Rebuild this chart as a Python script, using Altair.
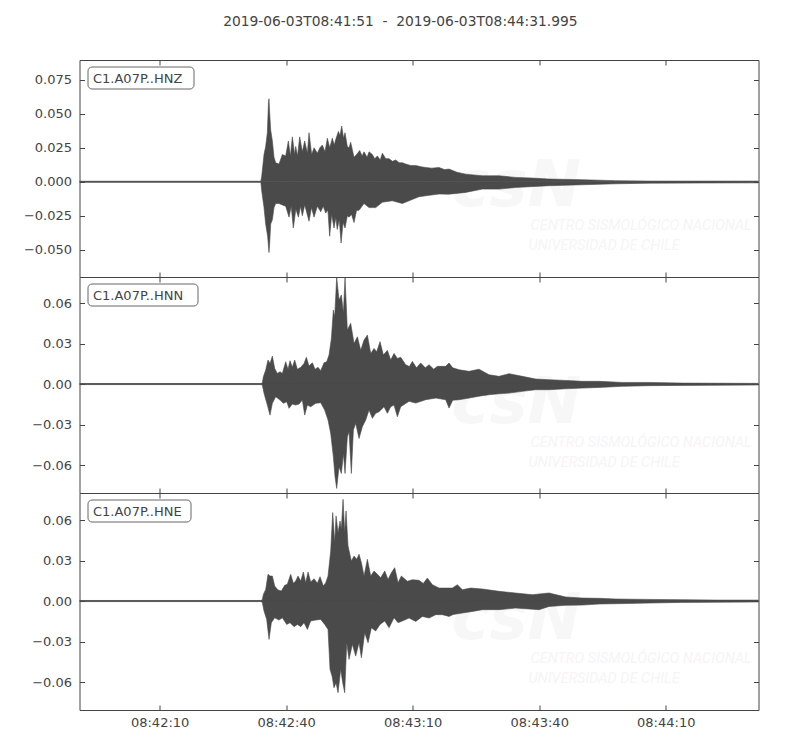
import altair as alt
import pandas as pd

TITLE = "2019-06-03T08:41:51\u00a0\u00a0-\u00a0\u00a02019-06-03T08:44:31.995"
START = "2019-06-03T08:41:51"
LABELS = ["C1.A07P..HNZ", "C1.A07P..HNN", "C1.A07P..HNE"]
TICK_TIMES = ["08:42:10", "08:42:40", "08:43:10", "08:43:40", "08:44:10"]
Y_TICKS = [
    [-0.05, -0.025, 0.0, 0.025, 0.05, 0.075],
    [-0.06, -0.03, 0.0, 0.03, 0.06],
    [-0.06, -0.03, 0.0, 0.03, 0.06],
]
Y_DOMAINS = [[-0.0700, 0.0895], [-0.0807, 0.0793], [-0.0807, 0.0800]]
Y_FORMATS = [".3f", ".2f", ".2f"]
WATERMARK = ["csN", "CENTRO SISMOLÓGICO NACIONAL", "UNIVERSIDAD DE CHILE"]

# ---- HNZ envelope (seconds after 08:41:51, amplitude) ----
hnz_max_t = [0, 43.0, 43.2, 43.75, 44.14, 44.54, 44.8, 44.93, 45.1, 45.33, 45.73, 46.12, 46.52, 47.31,
             48.1, 48.89, 49.52, 50.0, 50.47, 51.0, 51.26, 51.7, 52.21, 52.84, 53.39, 54.03, 54.42,
             55.05, 55.61, 56.4, 57.0, 57.58, 58.21, 58.77, 59.32, 59.95, 60.4, 60.75, 61.38, 61.77,
             62.17, 62.6, 62.96, 63.5, 63.91, 64.3, 65.09, 65.7, 66.44, 67.0, 67.46, 68.2, 68.65,
             69.44, 70.0, 70.63, 71.3, 71.81, 72.6, 73.4, 74.2, 74.97, 75.8, 76.55, 77.35, 78.5,
             79.72, 81.0, 82.09, 83.5, 85.25, 86.5, 87.62, 89.5, 91.57, 93.5, 95.53, 99.48, 103.43,
             107.38, 111.34, 119.24, 127.15, 135.05, 161.0]
hnz_max_v = [0.0004, 0.0004, 0.004, 0.020, 0.026, 0.036, 0.058, 0.061, 0.050, 0.038, 0.030, 0.018,
             0.014, 0.013, 0.020, 0.019, 0.030, 0.019, 0.033, 0.020, 0.026, 0.019, 0.033, 0.022,
             0.030, 0.021, 0.036, 0.020, 0.025, 0.021, 0.025, 0.027, 0.022, 0.032, 0.025, 0.032,
             0.027, 0.031, 0.037, 0.034, 0.041, 0.032, 0.036, 0.026, 0.025, 0.029, 0.018, 0.020,
             0.023, 0.019, 0.022, 0.018, 0.022, 0.020, 0.017, 0.019, 0.016, 0.021, 0.017, 0.017,
             0.015, 0.016, 0.014, 0.014, 0.013, 0.012, 0.012, 0.011, 0.0105, 0.010, 0.0105, 0.009,
             0.0093, 0.007, 0.0056, 0.005, 0.0044, 0.0044, 0.0032, 0.0027, 0.002, 0.0015, 0.0008,
             0.0005, 0.0005]
hnz_min_t = [0, 43.0, 43.2, 43.75, 44.14, 44.6, 44.93, 45.1, 45.33, 45.73, 46.12, 46.52, 47.31, 48.1,
             48.89, 49.68, 50.2, 50.7, 51.3, 51.9, 52.4, 52.84, 53.4, 54.42, 55.0, 55.61, 56.4, 57.2,
             57.8, 58.37, 58.9, 59.32, 59.8, 60.35, 60.8, 61.1, 61.6, 62.02, 62.5, 62.96, 63.5,
             63.91, 64.5, 65.09, 65.7, 66.28, 67.46, 68.65, 70.23, 71.81, 74.18, 76.55, 78.14,
             80.51, 82.88, 85.25, 87.62, 91.57, 95.53, 99.48, 103.43, 111.34, 119.24, 127.15,
             135.05, 161.0]
hnz_min_v = [-0.0004, -0.0004, -0.0066, -0.019, -0.031, -0.040, -0.052, -0.045, -0.031, -0.028,
             -0.019, -0.016, -0.016, -0.017, -0.018, -0.026, -0.018, -0.034, -0.020, -0.026,
             -0.018, -0.025, -0.017, -0.029, -0.019, -0.026, -0.018, -0.022, -0.018, -0.023,
             -0.021, -0.040, -0.024, -0.034, -0.026, -0.035, -0.028, -0.045, -0.030, -0.034,
             -0.025, -0.026, -0.024, -0.030, -0.021, -0.021, -0.016, -0.019, -0.019, -0.015,
             -0.014, -0.016, -0.014, -0.011, -0.010, -0.009, -0.0091, -0.0078, -0.0054, -0.0054,
             -0.0042, -0.0029, -0.0022, -0.0015, -0.001, -0.0008]

# ---- HNN envelope ----
hnn_max_t = [0, 43.0, 43.35, 43.59, 44.15, 44.70, 45.17, 45.73, 46.28, 46.91, 47.55, 48.10, 48.89,
             49.44, 49.92, 50.47, 51.02, 51.66, 52.45, 53.24, 53.79, 54.42, 55.21, 55.85, 56.56,
             57.19, 57.98, 58.61, 59.17, 59.72, 60.19, 60.51, 60.98, 61.54, 62.09, 62.57, 62.96,
             63.51, 64.30, 65.10, 65.89, 66.68, 67.47, 68.26, 69.05, 69.84, 70.47, 71.26, 72.05,
             73.0, 73.79, 74.58, 75.37, 76.16, 77.35, 78.2, 78.93, 79.9, 80.9, 82.0, 82.88, 84.0,
             84.86, 86.83, 87.62, 88.5, 90.0, 92.36, 94.73, 97.1, 99.48, 101.85, 105.0, 108.17,
             111.34, 115.29, 119.24, 123.19, 128.73, 135.05, 142.96, 161.0]
hnn_max_v = [0.0004, 0.0004, 0.0007, 0.0054, 0.0104, 0.0178, 0.0153, 0.0207, 0.0116, 0.0079,
             0.0091, 0.0079, 0.0165, 0.0109, 0.0173, 0.0124, 0.0178, 0.0109, 0.0124, 0.0153,
             0.0198, 0.0133, 0.0158, 0.0109, 0.0124, 0.0099, 0.0158, 0.0165, 0.0215, 0.0338,
             0.0548, 0.0499, 0.0790, 0.0622, 0.0660, 0.0524, 0.0790, 0.0400, 0.0450, 0.0300,
             0.0350, 0.0250, 0.0326, 0.0363, 0.0227, 0.0264, 0.0240, 0.0314, 0.0215, 0.0250,
             0.0178, 0.0227, 0.0190, 0.0198, 0.0143, 0.013, 0.0168, 0.012, 0.0156, 0.012, 0.0143,
             0.011, 0.0131, 0.0131, 0.0156, 0.012, 0.0106, 0.0094, 0.011, 0.0069, 0.0057, 0.0077,
             0.0057, 0.0037, 0.0032, 0.0027, 0.002, 0.002, 0.0012, 0.0012, 0.0007, 0.0005]
hnn_min_t = [0, 43.0, 43.35, 43.75, 44.54, 45.17, 45.73, 46.52, 47.55, 48.34, 49.13, 49.68, 50.47,
             51.26, 52.05, 52.84, 53.40, 54.03, 54.82, 56.0, 57.19, 58.14, 58.93, 59.56, 60.19,
             60.59, 60.98, 61.54, 62.09, 62.57, 62.96, 63.51, 63.91, 64.46, 64.94, 65.49, 66.28,
             67.07, 67.86, 68.65, 69.44, 70.23, 71.02, 72.21, 73.0, 73.79, 74.58, 75.37, 76.16,
             78.14, 79.72, 82.09, 84.46, 86.83, 87.62, 88.5, 90.0, 92.36, 94.73, 97.1, 99.48,
             101.85, 105.0, 108.17, 111.34, 115.29, 119.24, 123.19, 128.73, 135.05, 142.96, 161.0]
hnn_min_v = [-0.0004, -0.0004, -0.0007, -0.0069, -0.0156, -0.0230, -0.0143, -0.0094, -0.0119,
             -0.0143, -0.0131, -0.0180, -0.0148, -0.0156, -0.0148, -0.0119, -0.0230, -0.0156,
             -0.0168, -0.0143, -0.0138, -0.0193, -0.0267, -0.0366, -0.0538, -0.0687, -0.0773,
             -0.0613, -0.0662, -0.0514, -0.0662, -0.0390, -0.0353, -0.0662, -0.0341, -0.0291,
             -0.0403, -0.0316, -0.0267, -0.0193, -0.0254, -0.0217, -0.0205, -0.0168, -0.0217,
             -0.0168, -0.0156, -0.0242, -0.0168, -0.0128, -0.0141, -0.0116, -0.0104, -0.0116,
             -0.0178, -0.012, -0.0116, -0.0104, -0.009, -0.0079, -0.0072, -0.0067, -0.0054,
             -0.0042, -0.0042, -0.0035, -0.003, -0.0025, -0.0017, -0.0012, -0.001, -0.0007]

# ---- HNE envelope ----
hne_max_t = [0, 43.0, 43.35, 43.59, 44.15, 44.70, 45.17, 45.73, 46.28, 47.07, 47.86, 48.65, 49.28,
             50.08, 50.71, 51.26, 51.81, 52.45, 53.08, 53.63, 54.19, 54.82, 55.61, 56.40, 57.03,
             57.82, 58.38, 58.93, 59.56, 60.04, 60.51, 60.83, 61.30, 61.78, 62.09, 62.49, 62.88,
             63.2, 63.67, 64.46, 65.10, 65.73, 66.28, 66.84, 67.47, 68.26, 69.05, 69.84, 70.63,
             71.42, 72.37, 73.16, 73.95, 74.74, 75.53, 76.32, 77.74, 78.93, 80.51, 81.5, 82.48,
             83.67, 85.25, 86.83, 88.41, 89.6, 90.78, 92.76, 95.53, 99.48, 103.43, 107.38, 111.34,
             115.29, 119.24, 123.19, 127.15, 135.05, 142.96, 150.86, 161.0]
hne_max_v = [0.0004, 0.0004, 0.001, 0.0049, 0.0086, 0.0198, 0.0185, 0.0185, 0.0111, 0.0082,
             0.0074, 0.0116, 0.0124, 0.0198, 0.0131, 0.0148, 0.0185, 0.0148, 0.0215, 0.0136,
             0.0215, 0.0141, 0.0165, 0.0131, 0.0180, 0.0111, 0.0136, 0.0185, 0.0370, 0.0655,
             0.0432, 0.0630, 0.0506, 0.0593, 0.0531, 0.0753, 0.0506, 0.0667, 0.0408, 0.0296,
             0.0333, 0.0309, 0.0346, 0.0284, 0.0185, 0.0309, 0.0185, 0.0222, 0.0198, 0.0173,
             0.0222, 0.0160, 0.0210, 0.0247, 0.0136, 0.0185, 0.0146, 0.0158, 0.0153, 0.013, 0.017,
             0.0121, 0.0096, 0.0096, 0.0096, 0.0121, 0.0084, 0.0096, 0.0089, 0.0072, 0.0059,
             0.0047, 0.0059, 0.003, 0.0022, 0.002, 0.0015, 0.0012, 0.001, 0.0007, 0.0007]
hne_min_t = [0, 43.0, 43.35, 43.75, 44.38, 44.94, 45.49, 46.28, 47.31, 48.10, 49.13, 49.92, 50.87,
             51.66, 52.45, 53.24, 54.03, 54.82, 56.0, 57.19, 58.14, 58.93, 59.40, 59.88, 60.35,
             60.83, 61.30, 61.93, 62.41, 62.88, 63.36, 63.91, 64.70, 65.49, 66.28, 66.84, 67.63,
             68.42, 69.21, 70.23, 71.26, 72.37, 73.40, 74.58, 75.53, 76.55, 78.14, 79.72, 81.3,
             82.88, 84.46, 86.04, 87.62, 88.6, 90.78, 93.15, 95.53, 99.48, 103.43, 108.96, 111.34,
             115.29, 119.24, 123.19, 127.15, 135.05, 142.96, 161.0]
hne_min_v = [-0.0004, -0.0004, -0.001, -0.0074, -0.0136, -0.0284, -0.0160, -0.0124, -0.0141,
             -0.0124, -0.0173, -0.0160, -0.0190, -0.0173, -0.0190, -0.0160, -0.0210, -0.0148,
             -0.0141, -0.0136, -0.0173, -0.0210, -0.0506, -0.0556, -0.0642, -0.0605, -0.0679,
             -0.0506, -0.0605, -0.0679, -0.0309, -0.0432, -0.0321, -0.0408, -0.0309, -0.0420,
             -0.0235, -0.0309, -0.0198, -0.0222, -0.0173, -0.0148, -0.0198, -0.0124, -0.0160,
             -0.0148, -0.0126, -0.0151, -0.0114, -0.0126, -0.0101, -0.0101, -0.0114, -0.0100,
             -0.0089, -0.0077, -0.0064, -0.0064, -0.0052, -0.0064, -0.004, -0.0032, -0.003,
             -0.0022, -0.002, -0.0015, -0.001, -0.0007]

SERIES = [
    (hnz_max_t, hnz_max_v, hnz_min_t, hnz_min_v),
    (hnn_max_t, hnn_max_v, hnn_min_t, hnn_min_v),
    (hne_max_t, hne_max_v, hne_min_t, hne_min_v),
]

# ---- styles ----
WAVE = "#4a4a4a"
INK = "#444444"
FONT = "DejaVu Sans"
BOX_W = [106, 110, 103]
PANEL_H = [217, 216, 217]

base = pd.Timestamp(START)


def to_iso(secs):
    return [(base + pd.Timedelta(seconds=s)).strftime("%Y-%m-%dT%H:%M:%S.%f")[:-3] for s in secs]


def dt(hms, ms=0):
    h, m, s = (int(p) for p in hms.split(":"))
    return alt.DateTime(year=2019, month=6, date=3, hours=h, minutes=m, seconds=s, milliseconds=ms)


T_START = dt("08:41:51")
T_END = dt("08:44:31", 995)
TICK_DT = [dt(t) for t in TICK_TIMES]


def panel(i, last):
    top_t, top_v, bot_t, bot_v = SERIES[i]
    top = pd.DataFrame({"t": to_iso(top_t), "v": top_v})
    bot = pd.DataFrame({"t": to_iso(bot_t), "v": bot_v})
    xs = alt.Scale(domain=[T_START, T_END], nice=False)
    ys = alt.Scale(domain=Y_DOMAINS[i], nice=False, zero=False)
    common = dict(title=None, grid=False, domain=False, tickSize=5, offset=-5,
                  tickColor=INK, tickWidth=1)
    xaxis = alt.Axis(orient="bottom", values=TICK_DT, format="%H:%M:%S", labels=last,
                     labelPadding=6, **common)
    yaxis = alt.Axis(orient="left", values=Y_TICKS[i], format=Y_FORMATS[i], labelPadding=8, **common)
    xaxis_top = alt.Axis(orient="top", values=TICK_DT, labels=False, **common)
    yaxis_right = alt.Axis(orient="right", values=Y_TICKS[i], labels=False, **common)

    wm = pd.DataFrame({"a": [WATERMARK[0]], "b": [WATERMARK[1]], "c": [WATERMARK[2]]})
    wm_big = alt.Chart(wm).mark_text(font=FONT, fontSize=64, fontStyle="italic", fontWeight="bold",
                                     color="#f7f7f7", align="left", baseline="alphabetic").encode(
        x=alt.value(372), y=alt.value(146), text="a:N")
    wm_l1 = alt.Chart(wm).mark_text(font="Roboto", fontSize=14.5, fontStyle="italic",
                                    color="#f5f5f5", align="left", baseline="alphabetic").encode(
        x=alt.value(451), y=alt.value(170), text="b:N")
    wm_l2 = alt.Chart(wm).mark_text(font="Roboto", fontSize=14.5, fontStyle="italic",
                                    color="#f5f5f5", align="left", baseline="alphabetic").encode(
        x=alt.value(449), y=alt.value(190), text="c:N")

    area_top = alt.Chart(top).mark_area(color=WAVE, stroke=WAVE, strokeWidth=0.6, clip=True).encode(
        x=alt.X("t:T", scale=xs, axis=xaxis),
        y=alt.Y("v:Q", scale=ys, axis=yaxis),
        y2=alt.datum(0),
    )
    area_bot = alt.Chart(bot).mark_area(color=WAVE, stroke=WAVE, strokeWidth=0.6, clip=True).encode(
        x=alt.X("t:T", scale=xs, axis=None),
        y=alt.Y("v:Q", scale=ys, axis=None),
        y2=alt.datum(0),
    )
    ticks = alt.Chart(top).mark_point(opacity=0).encode(
        x=alt.X("t:T", scale=xs, axis=xaxis_top),
        y=alt.Y("v:Q", scale=ys, axis=yaxis_right),
    )
    lab = pd.DataFrame({"label": [LABELS[i]]})
    box = alt.Chart(lab).mark_rect(fill="white", stroke="#666666", strokeWidth=1, cornerRadius=4).encode(
        x=alt.value(8.5), x2=alt.value(8.5 + BOX_W[i]), y=alt.value(7), y2=alt.value(29))
    txt = alt.Chart(lab).mark_text(font=FONT, fontSize=13, color=INK, align="left",
                                   baseline="middle").encode(
        x=alt.value(13.5), y=alt.value(18.5), text="label:N")
    return alt.layer(wm_big, wm_l1, wm_l2, area_top, area_bot, ticks, box, txt).resolve_axis(
        x="independent", y="independent").properties(width=679, height=PANEL_H[i])


chart = alt.vconcat(panel(0, False), panel(1, False), panel(2, True), spacing=0, bounds="flush").properties(
    title=alt.TitleParams(TITLE, anchor="middle", font=FONT, fontSize=13.8, fontWeight="normal",
                          color=INK, offset=30, dx=8),
    padding={"left": 14.5, "top": 7, "right": 5, "bottom": 5},
    background="white",
).configure_view(stroke=INK, strokeWidth=1).configure_axis(
    labelFont=FONT, labelFontSize=13, labelColor=INK)

chart.save("out.html", embed_options={"renderer": "svg", "actions": False})
